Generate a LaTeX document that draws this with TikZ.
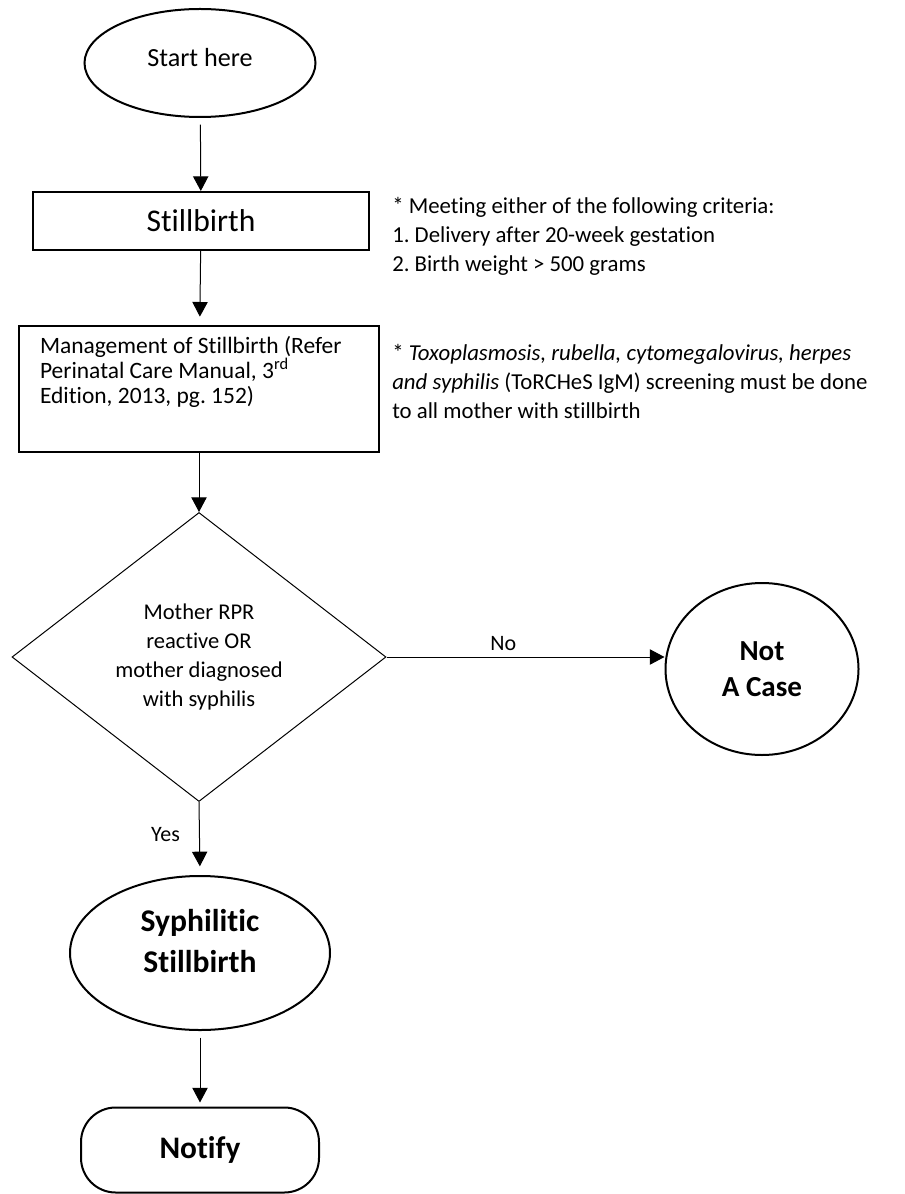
\documentclass[tikz,border=0pt]{standalone}
\usepackage{amsmath, amssymb}
\usepackage{fontspec}
\setmainfont{Carlito}[Ligatures={NoCommon}]
\usepackage{tikz}
\usetikzlibrary{shapes, arrows.meta}

\tikzset{
    ovalbox/.style={ellipse, draw, line width=1.5pt, align=center, inner sep=0pt},
    procbox/.style={rectangle, draw, align=center, inner sep=0pt},
    decbox/.style={diamond, draw, line width=0.75pt, aspect=1.3, inner sep=0pt, align=center,
        minimum width=280.5pt, minimum height=216.75pt, font=\fontsize{16.9}{21.75}\selectfont},
    notetext/.style={anchor=north west, inner sep=0pt, align=left, font=\fontsize{17.1}{21.75}\selectfont},
    flowarrow/.style={-{Triangle[length=11pt,width=11.5pt]}, line width=0.75pt},
    edgelabel/.style={font=\fontsize{16.5}{20}\selectfont}
}

\begin{document}
\frenchspacing
\begin{tikzpicture}[x=0.75pt,y=0.75pt,yscale=-1,xscale=1]
    \useasboundingbox (0,0) rectangle (904,1194);

    % Ellipse
    \node [ovalbox, minimum width=173.25pt, minimum height=81pt, text depth=9pt, font=\fontsize{19.6}{24}\selectfont] (start) at (200,63) {Start here};
    % Rect
    \node [procbox, line width=1.5pt, minimum width=252pt, minimum height=43.5pt, font=\fontsize{23.7}{28}\selectfont] (still) at (201,221) {Stillbirth};
    % Rect
    \node [procbox, line width=1pt, minimum width=270pt, minimum height=94.5pt, inner xsep=15.75pt, inner ysep=7.5pt, font=\fontsize{17.6}{18.75}\selectfont] (manage) at (199,389) {\begin{minipage}[t][79.5pt][t]{238.5pt}\setlength\topsep{0pt}
            Management of Stillbirth (Refer\\Perinatal Care Manual, 3\textsuperscript{rd}\\Edition, 2013, pg. 152)
        \end{minipage}};
    % Diamond
    \node [decbox] (rpr) at (199,657) {Mother RPR\\reactive OR\\mother diagnosed\\with syphilis};
    % Ellipse
    \node [ovalbox, minimum width=144.75pt, minimum height=129pt, font=\bfseries\fontsize{21.8}{27}\selectfont] (notcase) at (762,669) {Not\\A Case};
    % Ellipse
    \node [ovalbox, minimum width=195pt, minimum height=115.5pt, font=\bfseries\fontsize{23.7}{30.75}\selectfont] (syph) at (200,953) {\begin{minipage}[c][66pt][t]{110pt}\centering
            Syphilitic\\Stillbirth
        \end{minipage}};
    % Rounded Rect
    \node [procbox, line width=1.5pt, rounded corners=26pt, minimum width=178.5pt, minimum height=63.75pt, font=\bfseries\fontsize{23.5}{28}\selectfont] (notify) at (200,1150) {Notify};

    % Text Node
    \node [notetext] (critnote) at (392,197) {* Meeting either of the following criteria:\\1. Delivery after 20-week gestation\\2. Birth weight > 500 grams};
    % Text Node
    \node [notetext] (torchnote) at (392,344) {* \textit{Toxoplasmosis, rubella, cytomegalovirus, herpes}\\\textit{and syphilis} (ToRCHeS IgM) screening must be done\\to all mother with stillbirth};

    % Connection
    \draw [flowarrow, shorten <=5pt] (start) -- (still);
    % Connection
    \draw [flowarrow, shorten >=6.5pt] (still) -- (manage);
    % Connection
    \draw [flowarrow] (manage) -- (rpr);
    % Connection
    \draw [flowarrow] (rpr.east) -- (rpr.east -| notcase.west) node [edgelabel, pos=0.42, above=1pt] {No};
    % Connection
    \draw [flowarrow, shorten >=6.5pt] (rpr.south) -- (syph.north) node [edgelabel, pos=0.45, left=11pt] {Yes};
    % Connection
    \draw [flowarrow, shorten <=5pt, shorten >=3pt] (syph) -- (notify);

\end{tikzpicture}
\end{document}
